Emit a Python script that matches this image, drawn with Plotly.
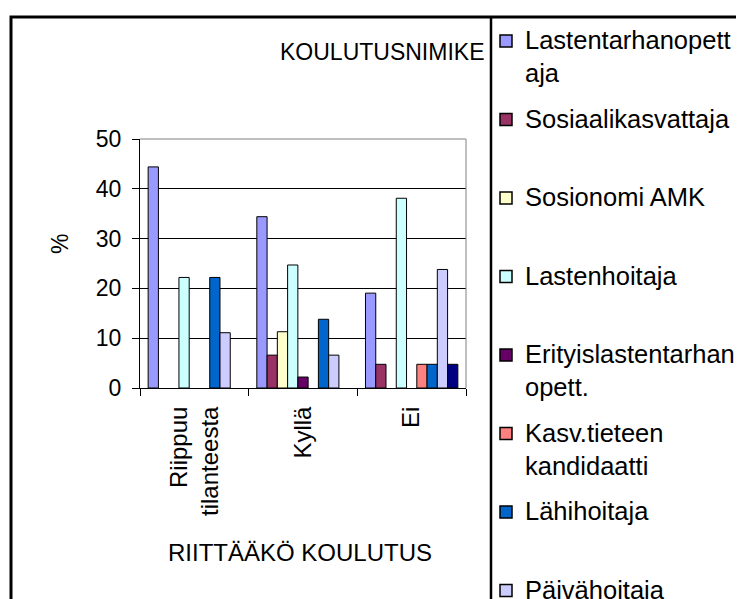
import plotly.graph_objects as go

# -----------------------------------------------------------------------------
# Data (percent)
# -----------------------------------------------------------------------------
categories = ["Riippuu<br>tilanteesta", "Kyllä", "Ei"]

series_names = [
    "Lastentarhanopettaja",
    "Sosiaalikasvattaja",
    "Sosionomi AMK",
    "Lastenhoitaja",
    "Erityislastentarhanopett.",
    "Kasv.tieteen kandidaatti",
    "Lähihoitaja",
    "Päivähoitaja",
    "Muu",
]
legend_labels = [
    "Lastentarhanopett<br>aja",
    "Sosiaalikasvattaja",
    "Sosionomi AMK",
    "Lastenhoitaja",
    "Erityislastentarhan<br>opett.",
    "Kasv.tieteen<br>kandidaatti",
    "Lähihoitaja",
    "Päivähoitaja",
    "Muu",
]

lastentarhanopettaja = [44.4, 34.4, 19.05]
sosiaalikasvattaja = [None, 6.6, 4.76]
sosionomi_amk = [None, 11.3, None]
lastenhoitaja = [22.2, 24.7, 38.1]
erityislastentarhanopettaja = [None, 2.2, None]
kasvatustieteen_kandidaatti = [None, None, 4.76]
lahihoitaja = [22.2, 13.8, 4.76]
paivahoitaja = [11.1, 6.6, 23.8]
muu = [None, None, 4.76]

series_values = [
    lastentarhanopettaja, sosiaalikasvattaja, sosionomi_amk, lastenhoitaja,
    erityislastentarhanopettaja, kasvatustieteen_kandidaatti, lahihoitaja,
    paivahoitaja, muu,
]

# Classic Excel chart palette
colors = ["#9999FF", "#993366", "#FFFFCC", "#CCFFFF", "#660066",
          "#FF8080", "#0066CC", "#CCCCFF", "#000080"]

FONT = "Liberation Sans, Arial, sans-serif"

# -----------------------------------------------------------------------------
# Pixel helpers. Positions are given in window pixels; the page body adds an
# 8px margin, so everything inside the figure is shifted by that offset.
# The figure is left full size so it runs off the bottom like the original.
# -----------------------------------------------------------------------------
OFF = 8
W, H = 744, 599
L, R, T, B = 140, 466, 139, 388  # plot area in window pixels


def px(x):
    return (x - L) / (R - L)


def py(y):
    return (B - y) / (B - T)


fig = go.Figure()

for name, vals, col in zip(series_names, series_values, colors):
    fig.add_trace(
        go.Bar(
            x=categories,
            y=vals,
            name=name,
            marker=dict(color=col, line=dict(color="black", width=1)),
            showlegend=False,
        )
    )

shapes = [
    # outer chart border
    dict(type="rect", xref="paper", yref="paper",
         x0=px(11), x1=px(800), y0=py(17), y1=py(700),
         line=dict(color="black", width=3), layer="below"),
    # legend box left edge
    dict(type="line", xref="paper", yref="paper",
         x0=px(491), x1=px(491), y0=py(17), y1=py(700),
         line=dict(color="black", width=2.5)),
    # plot area border (top/right, grey)
    dict(type="line", xref="paper", yref="paper",
         x0=0, x1=1, y0=1, y1=1, line=dict(color="#808080", width=1)),
    dict(type="line", xref="paper", yref="paper",
         x0=1, x1=1, y0=0, y1=1, line=dict(color="#808080", width=1)),
]

annotations = [
    dict(text="KOULUTUSNIMIKE", xref="paper", yref="paper",
         x=px(486), y=py(52), xanchor="right", yanchor="middle",
         showarrow=False, font=dict(size=23, color="black", family=FONT)),
    dict(text="%", xref="paper", yref="paper", textangle=-90,
         x=px(60), y=py(244), xanchor="center", yanchor="middle",
         showarrow=False, font=dict(size=23, color="black", family=FONT)),
    dict(text="RIITTÄÄKÖ KOULUTUS", xref="paper", yref="paper",
         x=px(300), y=py(552), xanchor="center", yanchor="middle",
         showarrow=False, font=dict(size=24, color="black", family=FONT)),
]

# Hand-drawn legend, Excel style (items spread down the legend box)
item_y = 41
for label, col in zip(legend_labels, colors):
    shapes.append(dict(type="rect", xref="paper", yref="paper",
                       x0=px(500), x1=px(512), y0=py(item_y - 6), y1=py(item_y + 6),
                       fillcolor=col, line=dict(color="black", width=1.5)))
    annotations.append(dict(text=label, xref="paper", yref="paper",
                            x=px(523), y=py(item_y - 17), xanchor="left", yanchor="top",
                            align="left", showarrow=False,
                            font=dict(size=25.5, color="black", family=FONT)))
    item_y += 78.5

fig.update_layout(
    width=W,
    height=H,
    margin=dict(l=L - OFF, r=W - (R - OFF), t=T - OFF, b=H - (B - OFF)),
    paper_bgcolor="white",
    plot_bgcolor="white",
    barmode="group",
    bargap=0.15,
    bargroupgap=0,
    font=dict(family=FONT, color="black", size=23),
    shapes=shapes,
    annotations=annotations,
)

fig.update_xaxes(
    type="category",
    tickangle=-90,
    tickson="boundaries",
    ticks="outside",
    ticklen=7,
    tickcolor="black",
    showline=True,
    linecolor="black",
    linewidth=1,
    showgrid=False,
    ticklabelstandoff=8,
    tickfont=dict(size=24, family=FONT, color="black"),
)

fig.update_yaxes(
    range=[0, 50],
    tickvals=[0, 10, 20, 30, 40, 50],
    ticks="outside",
    ticklen=7,
    tickcolor="black",
    showline=True,
    linecolor="black",
    linewidth=1,
    showgrid=True,
    gridcolor="black",
    gridwidth=1,
    zeroline=False,
    ticklabelstandoff=6,
    tickfont=dict(size=23, family=FONT, color="black"),
)

fig.write_html("out.html")
